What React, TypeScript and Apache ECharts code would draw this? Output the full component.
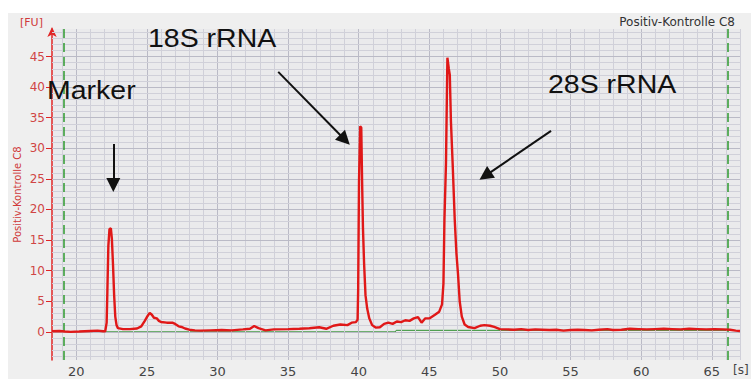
import React, { useEffect, useRef } from "react";
import * as echarts from "echarts";

// ---- data ----
const traceX = [
  18.28, 18.8, 19.2, 19.6, 20.2, 20.6, 21.0, 21.5, 21.9, 22.05, 22.15, 22.2, 22.27, 22.35, 22.45, 22.52, 22.6, 22.68,
  22.76, 22.85, 22.95, 23.3, 23.8, 24.3, 24.6, 24.85, 25.05, 25.2, 25.35, 25.5, 25.7, 25.85, 26.0, 26.4, 26.8, 27.0,
  27.25, 27.45, 27.7, 28.0, 28.4, 28.8, 29.5, 30.3, 31.0, 31.8, 32.3, 32.6, 32.9, 33.4, 34.0, 35.0, 35.8, 36.5, 37.2,
  37.7, 38.2, 38.7, 39.2, 39.5, 39.8, 39.92, 39.96, 40.02, 40.1, 40.18, 40.24, 40.3, 40.38, 40.48, 40.6, 40.75, 40.95,
  41.2, 41.5, 41.8, 42.1, 42.4, 42.7, 43.0, 43.3, 43.6, 43.9, 44.2, 44.45, 44.7, 45.0, 45.4, 45.7, 45.9, 46.0, 46.07,
  46.18, 46.28, 46.38, 46.45, 46.53, 46.65, 46.8, 46.92, 47.03, 47.15, 47.3, 47.5, 47.75, 48.2, 48.6, 48.9, 49.3, 49.6,
  50.0, 50.5, 51.0, 51.5, 52.0, 52.5, 53.0, 53.5, 54.0, 54.5, 55.0, 55.5, 56.0, 56.5, 57.0, 57.6, 58.0, 58.6, 59.2,
  59.8, 60.4, 61.0, 61.6, 62.2, 62.8, 63.4, 64.0, 64.6, 65.2, 65.8, 66.3, 66.7, 67.0,
];
const traceY = [
  0.1, 0.15, 0.05, 0.0, 0.05, 0.1, 0.15, 0.2, 0.1, 0.1, 1.5, 6.5, 14, 16.8, 16.9, 15.2, 11, 6,
  2.5, 1.1, 0.6, 0.45, 0.45, 0.55, 0.9, 1.8, 2.6, 3.1, 2.8, 2.3, 2.2, 1.8, 1.6, 1.5, 1.5, 1.3,
  0.9, 0.8, 0.55, 0.35, 0.25, 0.2, 0.25, 0.3, 0.25, 0.4, 0.5, 0.95, 0.6, 0.25, 0.4, 0.45, 0.5, 0.6, 0.75,
  0.5, 1.0, 1.2, 1.1, 1.5, 1.6, 2.0, 6.8, 24.5, 33.6, 33.4, 24.5, 17, 11.2, 6, 3.8, 2.2, 1.1,
  0.7, 0.75, 1.3, 1.5, 1.3, 1.7, 1.6, 1.9, 1.8, 2.2, 2.4, 1.5, 2.2, 2.2, 2.8, 3.3, 4.5, 7.9, 18.3,
  27.6, 44.8, 43.0, 42, 34.4, 27.6, 18.3, 12.8, 9.5, 5, 2.5, 1.2, 0.8, 0.6, 1.0, 1.1, 1.0, 0.8,
  0.45, 0.4, 0.35, 0.45, 0.3, 0.4, 0.35, 0.3, 0.35, 0.2, 0.3, 0.35, 0.3, 0.25, 0.35, 0.45, 0.3, 0.35, 0.5,
  0.45, 0.4, 0.45, 0.5, 0.45, 0.4, 0.5, 0.45, 0.4, 0.45, 0.4, 0.35, 0.2, 0.15,
];
const baselineX = [19.1, 42.6, 42.65, 66.13];
const baselineY = [0, 0, 0.25, 0.25];
const windowMarkers = [19.1, 66.13];
const xTickLabels = [20, 25, 30, 35, 40, 45, 50, 55, 60, 65];
const yTickLabels = [0, 5, 10, 15, 20, 25, 30, 35, 40, 45];
const xMin = 18.28;
const xMax = 67.0;
const yMin = -4.6;
const yMax = 49.5;
const xGridValues = Array.from({ length: 49 }, (_, i) => 19 + i); // 19..67
const yGridValues = Array.from({ length: 54 }, (_, i) => -4 + i); // -4..49
const annotations = [
  { text: "Marker", from: [22.62, 30.7], to: [22.62, 24.0] },
  { text: "18S rRNA", from: [34.3, 42.5], to: [39.02, 31.4] },
  { text: "28S rRNA", from: [53.62, 32.85], to: [48.96, 25.5] },
];
const sampleName = "Positiv-Kontrolle C8";

export default function App() {
  const ref = useRef<HTMLDivElement>(null);
  useEffect(() => {
    document.body.style.margin = "0";
    if (!ref.current) return;
    const chart = echarts.init(ref.current, null, { renderer: "svg" });
    const trace = traceX.map((x, i) => [x, traceY[i]]);
    const baseline = baselineX.map((x, i) => [x, baselineY[i]]);
    const gridLines = [
      ...xGridValues.map((v) => ({
        xAxis: v,
        lineStyle: { color: v % 5 === 0 ? "#babac6" : "#d0d0d9", width: 1, type: "solid" },
      })),
      ...yGridValues.map((v) => ({
        yAxis: v,
        lineStyle: { color: v % 5 === 0 ? "#babac6" : "#d0d0d9", width: 1, type: "solid" },
      })),
    ];
    const labelFont = "DejaVu Sans";
    const annFont = '25px "Liberation Sans"';
    chart.setOption({
      animation: false,
      backgroundColor: "#ffffff",
      graphic: [
        { type: "rect", z: -10, shape: { x: 8, y: 13, width: 751, height: 379 }, style: { fill: "#efefef" } },
        {
          type: "text", x: 735, y: 21.5, z: 10,
          style: { text: sampleName, font: `12px "${labelFont}"`, fill: "#333", align: "right", textAlign: "right", verticalAlign: "middle", textVerticalAlign: "middle" },
        },
        {
          type: "text", x: 20, y: 22.5, z: 10,
          style: { text: "[FU]", font: `11px "${labelFont}"`, fill: "#d03a3a", align: "left", textAlign: "left", verticalAlign: "middle", textVerticalAlign: "middle" },
        },
        {
          type: "text", x: 733, y: 370, z: 10,
          style: { text: "[s]", font: `12px "${labelFont}"`, fill: "#444", align: "left", textAlign: "left", verticalAlign: "middle", textVerticalAlign: "middle" },
        },
        {
          type: "text", x: 47, y: 91, z: 20, scaleX: 1.14,
          style: { text: annotations[0].text, font: annFont, fill: "#111", align: "left", textAlign: "left", verticalAlign: "middle", textVerticalAlign: "middle" },
        },
        {
          type: "text", x: 148, y: 38.5, z: 20, scaleX: 1.14,
          style: { text: annotations[1].text, font: annFont, fill: "#111", align: "left", textAlign: "left", verticalAlign: "middle", textVerticalAlign: "middle" },
        },
        {
          type: "text", x: 548, y: 85, z: 20, scaleX: 1.14,
          style: { text: annotations[2].text, font: annFont, fill: "#111", align: "left", textAlign: "left", verticalAlign: "middle", textVerticalAlign: "middle" },
        },
      ],
      grid: {
        left: 52, right: 11, top: 29, bottom: 19,
        show: true, backgroundColor: "#eaeaec", borderWidth: 0,
      },
      xAxis: {
        type: "value", min: xMin, max: xMax,
        axisLine: { lineStyle: { color: "#6a6a6a", width: 1 } },
        axisTick: { show: true, length: 5, customValues: xTickLabels, lineStyle: { color: "#555" } },
        axisLabel: { customValues: xTickLabels, color: "#444", fontSize: 13, fontFamily: labelFont, margin: 5 },
        splitLine: { show: false },
      },
      yAxis: [
        {
          type: "value", min: yMin, max: yMax,
          name: sampleName, nameLocation: "middle", nameGap: 30, nameMoveOverlap: false,
          nameTextStyle: { color: "#d03a3a", fontSize: 10, fontFamily: labelFont },
          axisLine: { show: true, lineStyle: { color: "#e02525", width: 1.5 }, symbol: ["none", "arrow"], symbolSize: [7, 10], symbolOffset: [0, 2] },
          axisTick: { show: true, length: 6, customValues: yTickLabels, lineStyle: { color: "#e02525" } },
          axisLabel: { customValues: yTickLabels, color: "#d04545", fontSize: 12, fontFamily: labelFont, margin: 7 },
          splitLine: { show: false },
        },
        {
          type: "value", min: yMin, max: yMax, position: "left",
          axisLine: { show: false },
          axisTick: { show: true, inside: true, length: 5, customValues: yTickLabels, lineStyle: { color: "#e02525" } },
          axisLabel: { show: false },
          splitLine: { show: false },
        },
      ],
      series: [
        {
          type: "line", data: [], z: 1, silent: true,
          markLine: { silent: true, symbol: ["none", "none"], label: { show: false }, animation: false, data: gridLines },
        },
        {
          type: "line", data: baseline, z: 3, symbol: "none", silent: true,
          lineStyle: { color: "#2f8f2f", width: 1 },
          markLine: {
            silent: true, symbol: ["none", "none"], label: { show: false }, animation: false,
            lineStyle: { color: "#2f9a2f", width: 1.5, type: [9, 5] },
            data: windowMarkers.map((v) => ({ xAxis: v })),
          },
        },
        {
          type: "line", data: trace, z: 5, symbol: "none", silent: true,
          lineStyle: { color: "#e01818", width: 2.4 },
        },
        {
          type: "line", data: [], z: 8, silent: true,
          markLine: {
            silent: true, symbol: ["none", "triangle"], symbolSize: 14, label: { show: false }, animation: false,
            lineStyle: { color: "#111", width: 2, type: "solid" },
            itemStyle: { color: "#111" },
            data: annotations.map((a) => [{ coord: a.from }, { coord: a.to }]),
          },
        },
      ],
    });
    return () => chart.dispose();
  }, []);
  return <div ref={ref} style={{ width: 751, height: 379 }} />;
}
